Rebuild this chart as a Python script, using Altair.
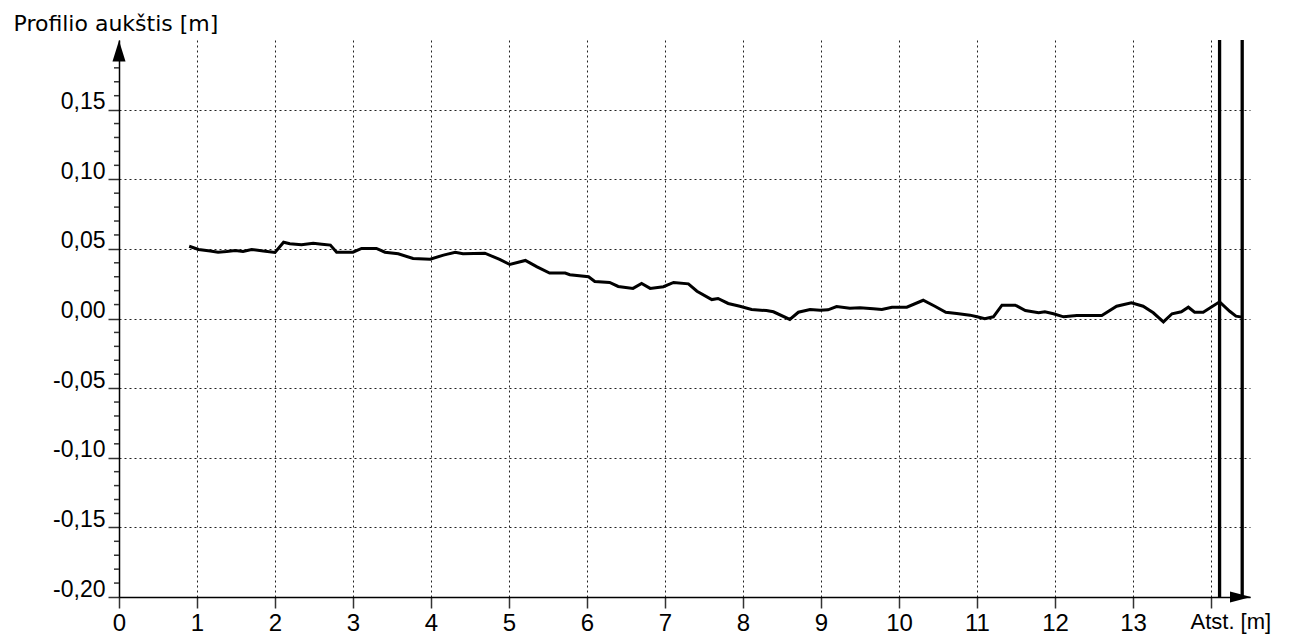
import altair as alt
import pandas as pd

# Profile distance [m] and height [m]
dist = [0.90, 1.02, 1.17, 1.27, 1.38, 1.49, 1.59, 1.70, 1.85, 2.00, 2.11, 2.19, 2.34, 2.49,
        2.60, 2.71, 2.79, 3.00, 3.11, 3.30, 3.41, 3.58, 3.77, 3.99, 4.16, 4.31, 4.41, 4.69,
        4.88, 5.01, 5.21, 5.36, 5.52, 5.72, 5.78, 6.02, 6.10, 6.29, 6.40, 6.59, 6.70, 6.81,
        6.98, 7.11, 7.30, 7.41, 7.60, 7.68, 7.81, 7.96, 8.11, 8.30, 8.39, 8.60, 8.71, 8.86,
        8.99, 9.09, 9.20, 9.37, 9.50, 9.67, 9.78, 9.91, 10.10, 10.31, 10.46, 10.60, 10.74,
        10.91, 11.00, 11.10, 11.21, 11.32, 11.49, 11.62, 11.79, 11.87, 11.98, 12.11, 12.28,
        12.60, 12.79, 12.98, 13.13, 13.26, 13.39, 13.50, 13.62, 13.71, 13.79, 13.90, 14.11,
        14.24, 14.32, 14.40]
height = [0.0519, 0.0496, 0.0484, 0.0476, 0.0481, 0.0489, 0.0481, 0.0496, 0.0484, 0.0474,
          0.0548, 0.0537, 0.0529, 0.0541, 0.0534, 0.0527, 0.0476, 0.0476, 0.0503, 0.0503,
          0.0476, 0.0465, 0.0431, 0.0426, 0.0455, 0.0476, 0.0465, 0.0469, 0.0424, 0.0388,
          0.0417, 0.0371, 0.0326, 0.0326, 0.0314, 0.0300, 0.0266, 0.0259, 0.0230, 0.0216,
          0.0251, 0.0216, 0.0228, 0.0259, 0.0249, 0.0196, 0.0136, 0.0144, 0.0108, 0.0088,
          0.0065, 0.0057, 0.0048, -0.0007, 0.0045, 0.0065, 0.0060, 0.0062, 0.0086, 0.0074,
          0.0077, 0.0070, 0.0065, 0.0081, 0.0081, 0.0131, 0.0088, 0.0045, 0.0036, 0.0024,
          0.0012, -0.0002, 0.0012, 0.0096, 0.0096, 0.0057, 0.0041, 0.0048, 0.0034, 0.0012,
          0.0022, 0.0022, 0.0088, 0.0113, 0.0088, 0.0041, -0.0024, 0.0034, 0.0048, 0.0081,
          0.0045, 0.0045, 0.0120, 0.0052, 0.0017, 0.0010]

# Section markers (vertical thick lines)
marker_dist = [14.11, 14.40]

# Axis ticks
x_ticks = list(range(0, 15))
y_ticks = [-0.20, -0.15, -0.10, -0.05, 0.00, 0.05, 0.10, 0.15]
y_minor = [round(-0.20 + i * 0.01, 2) for i in range(0, 39) if i % 5 != 0]

W, H = 1131, 557
X_DOMAIN = [0, 14.5]
Y_DOMAIN = [-0.20, 0.20]

xs = alt.Scale(domain=X_DOMAIN, nice=False, zero=False)
ys = alt.Scale(domain=Y_DOMAIN, nice=False, zero=False)

profile = pd.DataFrame({"dist": dist, "h": height})
markers = pd.DataFrame({"dist": marker_dist})
minor = pd.DataFrame({"h": y_minor})
one = pd.DataFrame({"k": [0]})

GRID_COLOR = "#222222"

x_axis = alt.Axis(
    values=x_ticks,
    labelExpr="datum.value == 14 ? '' : format(datum.value, 'd')",
    tickSize=11, tickColor="#333333", tickWidth=1.5,
    domainColor="black", domainWidth=1.5,
    grid=True, gridDash=[2, 3], gridColor=GRID_COLOR, gridWidth=1, gridOpacity=1,
    labelFont="Liberation Sans", labelFontSize=24, labelColor="black", labelPadding=3,
    labelFlush=False,
    title="Atst. [m]", titleFont="Liberation Sans", titleFontSize=22,
    titleFontWeight="normal", titleColor="black",
    titleAlign="left", titleBaseline="alphabetic", titleX=1071, titleY=31,
)

y_axis = alt.Axis(
    values=y_ticks,
    labelExpr="(datum.value < 0 ? '-' : '') + replace(format(abs(datum.value), '.2f'), '.', ',')",
    tickSize=11, tickColor="#333333", tickWidth=1.5,
    domainColor="black", domainWidth=1.5,
    grid=True, gridDash=[2, 3], gridColor=GRID_COLOR, gridWidth=1, gridOpacity=1,
    labelFont="Liberation Sans", labelFontSize=23, labelColor="black", labelPadding=3,
    labelBaseline="alphabetic", labelOffset=-1, labelFlush=False,
    title="Profilio aukštis [m]", titleFont="DejaVu Sans", titleFontSize=22,
    titleFontWeight="normal", titleColor="black", titleAngle=0,
    titleAlign="left", titleBaseline="alphabetic", titleX=-106, titleY=-10,
)

line = alt.Chart(profile).mark_line(color="black", strokeWidth=3).encode(
    x=alt.X("dist:Q", scale=xs, axis=x_axis),
    y=alt.Y("h:Q", scale=ys, axis=y_axis),
)

marker_rules = alt.Chart(markers).mark_rule(color="black", strokeWidth=3.3).encode(
    x=alt.X("dist:Q", scale=xs),
    y=alt.value(0),
    y2=alt.value(H),
)

minor_ticks = alt.Chart(minor).mark_rule(color="#333333", strokeWidth=1.5).encode(
    y=alt.Y("h:Q", scale=ys),
    x=alt.value(-5),
    x2=alt.value(0),
)

up_arrow = alt.Chart(one).mark_point(
    shape="M0,-1L0.62,1L-0.62,1Z", filled=True, color="black", opacity=1, size=441
).encode(x=alt.value(0), y=alt.value(11))

right_arrow = alt.Chart(one).mark_point(
    shape="M1,0L-1,-0.52L-1,0.52Z", filled=True, color="black", opacity=1, size=441
).encode(x=alt.value(W - 9.5), y=alt.value(H))

chart = alt.layer(line, marker_rules, minor_ticks, up_arrow, right_arrow).properties(
    width=W,
    height=H,
    autosize=alt.AutoSizeParams(type="none"),
    padding={"left": 111, "top": 32, "right": 31, "bottom": 37},
    background="white",
).configure_view(stroke=None)

chart.save("out.html", embed_options={"renderer": "svg", "actions": False})
